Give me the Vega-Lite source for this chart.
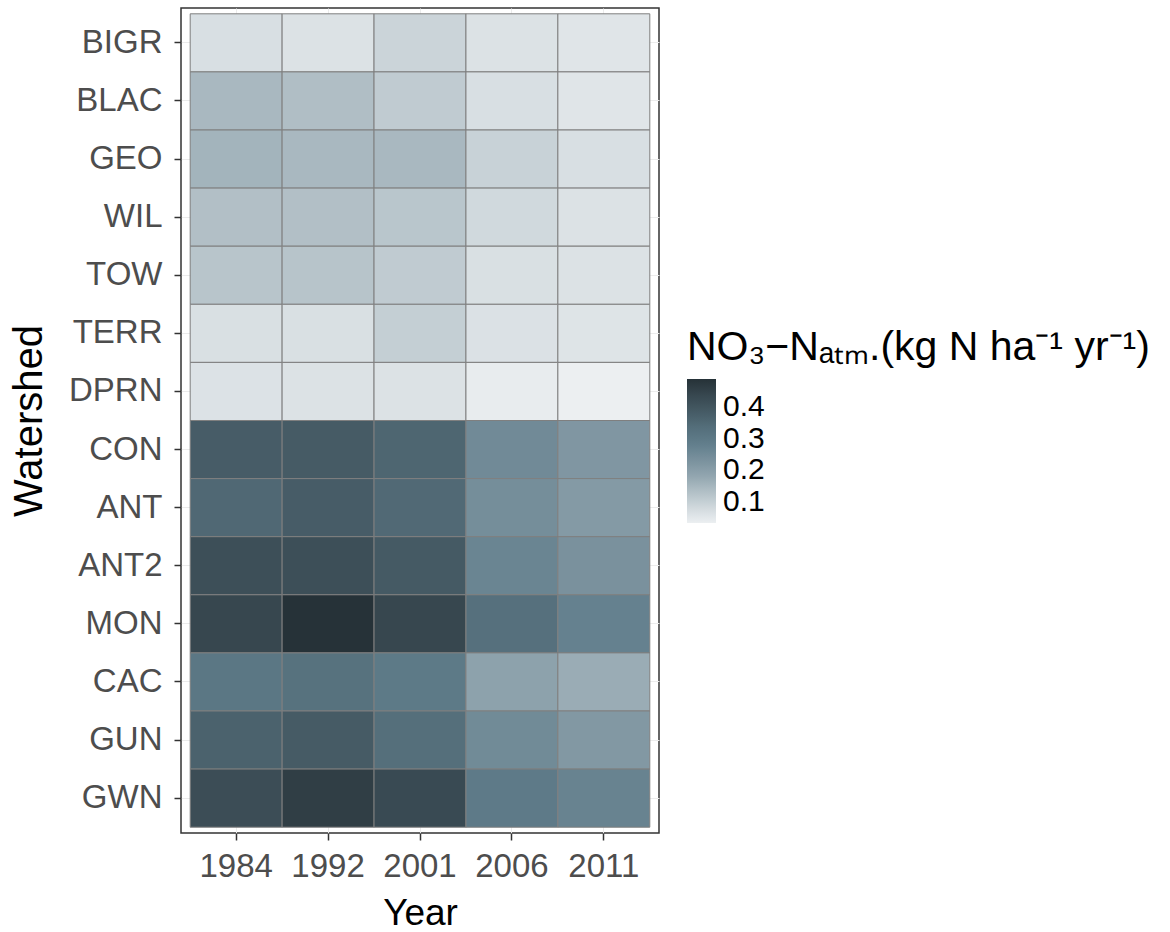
{
  "$schema": "https://vega.github.io/schema/vega-lite/v6.json",
  "width": 478,
  "height": 825,
  "autosize": {"type": "none"},
  "padding": {"left": 181, "top": 8, "right": 511, "bottom": 99},
  "background": "white",
  "config": {
    "font": "Liberation Sans",
    "view": {"stroke": "#333333", "strokeWidth": 1.5}
  },
  "data": {
    "values": [
      {"Watershed": "BIGR", "Year": 1984, "NO3N": 0.067},
      {"Watershed": "BIGR", "Year": 1992, "NO3N": 0.061},
      {"Watershed": "BIGR", "Year": 2001, "NO3N": 0.090},
      {"Watershed": "BIGR", "Year": 2006, "NO3N": 0.061},
      {"Watershed": "BIGR", "Year": 2011, "NO3N": 0.053},
      {"Watershed": "BLAC", "Year": 1984, "NO3N": 0.145},
      {"Watershed": "BLAC", "Year": 1992, "NO3N": 0.134},
      {"Watershed": "BLAC", "Year": 2001, "NO3N": 0.108},
      {"Watershed": "BLAC", "Year": 2006, "NO3N": 0.067},
      {"Watershed": "BLAC", "Year": 2011, "NO3N": 0.053},
      {"Watershed": "GEO", "Year": 1984, "NO3N": 0.154},
      {"Watershed": "GEO", "Year": 1992, "NO3N": 0.145},
      {"Watershed": "GEO", "Year": 2001, "NO3N": 0.145},
      {"Watershed": "GEO", "Year": 2006, "NO3N": 0.094},
      {"Watershed": "GEO", "Year": 2011, "NO3N": 0.067},
      {"Watershed": "WIL", "Year": 1984, "NO3N": 0.131},
      {"Watershed": "WIL", "Year": 1992, "NO3N": 0.131},
      {"Watershed": "WIL", "Year": 2001, "NO3N": 0.118},
      {"Watershed": "WIL", "Year": 2006, "NO3N": 0.081},
      {"Watershed": "WIL", "Year": 2011, "NO3N": 0.061},
      {"Watershed": "TOW", "Year": 1984, "NO3N": 0.120},
      {"Watershed": "TOW", "Year": 1992, "NO3N": 0.122},
      {"Watershed": "TOW", "Year": 2001, "NO3N": 0.108},
      {"Watershed": "TOW", "Year": 2006, "NO3N": 0.065},
      {"Watershed": "TOW", "Year": 2011, "NO3N": 0.061},
      {"Watershed": "TERR", "Year": 1984, "NO3N": 0.065},
      {"Watershed": "TERR", "Year": 1992, "NO3N": 0.065},
      {"Watershed": "TERR", "Year": 2001, "NO3N": 0.101},
      {"Watershed": "TERR", "Year": 2006, "NO3N": 0.062},
      {"Watershed": "TERR", "Year": 2011, "NO3N": 0.057},
      {"Watershed": "DPRN", "Year": 1984, "NO3N": 0.060},
      {"Watershed": "DPRN", "Year": 1992, "NO3N": 0.061},
      {"Watershed": "DPRN", "Year": 2001, "NO3N": 0.061},
      {"Watershed": "DPRN", "Year": 2006, "NO3N": 0.039},
      {"Watershed": "DPRN", "Year": 2011, "NO3N": 0.032},
      {"Watershed": "CON", "Year": 1984, "NO3N": 0.382},
      {"Watershed": "CON", "Year": 1992, "NO3N": 0.385},
      {"Watershed": "CON", "Year": 2001, "NO3N": 0.357},
      {"Watershed": "CON", "Year": 2006, "NO3N": 0.251},
      {"Watershed": "CON", "Year": 2011, "NO3N": 0.219},
      {"Watershed": "ANT", "Year": 1984, "NO3N": 0.352},
      {"Watershed": "ANT", "Year": 1992, "NO3N": 0.382},
      {"Watershed": "ANT", "Year": 2001, "NO3N": 0.349},
      {"Watershed": "ANT", "Year": 2006, "NO3N": 0.241},
      {"Watershed": "ANT", "Year": 2011, "NO3N": 0.211},
      {"Watershed": "ANT2", "Year": 1984, "NO3N": 0.417},
      {"Watershed": "ANT2", "Year": 1992, "NO3N": 0.417},
      {"Watershed": "ANT2", "Year": 2001, "NO3N": 0.388},
      {"Watershed": "ANT2", "Year": 2006, "NO3N": 0.265},
      {"Watershed": "ANT2", "Year": 2011, "NO3N": 0.232},
      {"Watershed": "MON", "Year": 1984, "NO3N": 0.439},
      {"Watershed": "MON", "Year": 1992, "NO3N": 0.490},
      {"Watershed": "MON", "Year": 2001, "NO3N": 0.439},
      {"Watershed": "MON", "Year": 2006, "NO3N": 0.329},
      {"Watershed": "MON", "Year": 2011, "NO3N": 0.275},
      {"Watershed": "CAC", "Year": 1984, "NO3N": 0.306},
      {"Watershed": "CAC", "Year": 1992, "NO3N": 0.324},
      {"Watershed": "CAC", "Year": 2001, "NO3N": 0.297},
      {"Watershed": "CAC", "Year": 2006, "NO3N": 0.190},
      {"Watershed": "CAC", "Year": 2011, "NO3N": 0.168},
      {"Watershed": "GUN", "Year": 1984, "NO3N": 0.367},
      {"Watershed": "GUN", "Year": 1992, "NO3N": 0.385},
      {"Watershed": "GUN", "Year": 2001, "NO3N": 0.334},
      {"Watershed": "GUN", "Year": 2006, "NO3N": 0.250},
      {"Watershed": "GUN", "Year": 2011, "NO3N": 0.215},
      {"Watershed": "GWN", "Year": 1984, "NO3N": 0.422},
      {"Watershed": "GWN", "Year": 1992, "NO3N": 0.460},
      {"Watershed": "GWN", "Year": 2001, "NO3N": 0.430},
      {"Watershed": "GWN", "Year": 2006, "NO3N": 0.295},
      {"Watershed": "GWN", "Year": 2011, "NO3N": 0.270}
    ]
  },
  "mark": {"type": "rect", "stroke": "#7f7f7f", "strokeWidth": 1},
  "encoding": {
    "x": {
      "field": "Year",
      "type": "ordinal",
      "scale": {"paddingInner": 0, "paddingOuter": 0.1},
      "axis": {
        "zindex": 0,
        "labelAngle": 0,
        "labelFontSize": 33,
        "labelColor": "#4d4d4d",
        "labelPadding": 10,
        "tickColor": "#333333",
        "tickWidth": 1.5,
        "tickSize": 7,
        "domain": false,
        "grid": true,
        "gridColor": "#ebebeb",
        "gridWidth": 1,
        "title": "Year",
        "titleFontSize": 37,
        "titleFontWeight": "normal",
        "titleColor": "#000000",
        "titlePadding": 12
      }
    },
    "y": {
      "field": "Watershed",
      "type": "nominal",
      "sort": ["BIGR", "BLAC", "GEO", "WIL", "TOW", "TERR", "DPRN", "CON", "ANT", "ANT2", "MON", "CAC", "GUN", "GWN"],
      "scale": {"paddingInner": 0, "paddingOuter": 0.1},
      "axis": {
        "zindex": 0,
        "labelFontSize": 33,
        "labelColor": "#4d4d4d",
        "labelPadding": 12,
        "tickColor": "#333333",
        "tickWidth": 1.5,
        "tickSize": 7,
        "domain": false,
        "grid": true,
        "gridColor": "#ebebeb",
        "gridWidth": 1,
        "title": "Watershed",
        "titleFontSize": 40,
        "titleFontWeight": "normal",
        "titleColor": "#000000",
        "titlePadding": 19
      }
    },
    "color": {
      "field": "NO3N",
      "type": "quantitative",
      "scale": {
        "zero": false,
        "nice": false,
        "range": ["#ECEFF1", "#CFD8DC", "#B0BEC5", "#90A4AE", "#78909C", "#607D8B", "#546E7A", "#455A64", "#37474F", "#263238"]
      },
      "legend": {
        "orient": "none",
        "legendX": 506,
        "legendY": 320,
        "direction": "vertical",
        "gradientLength": 144,
        "gradientThickness": 29,
        "gradientStrokeWidth": 0,
        "values": [0.1, 0.2, 0.3, 0.4],
        "format": ".1f",
        "labelFontSize": 30,
        "labelColor": "#000000",
        "labelOverlap": false,
        "labelOffset": 7,
        "labelLimit": 200,
        "title": "NO₃−Nₐₜₘ.(kg N ha⁻¹ yr⁻¹)",
        "titleFontSize": 41,
        "titleFontWeight": "normal",
        "titleColor": "#000000",
        "titleLimit": 700,
        "titlePadding": 10
      }
    }
  }
}
